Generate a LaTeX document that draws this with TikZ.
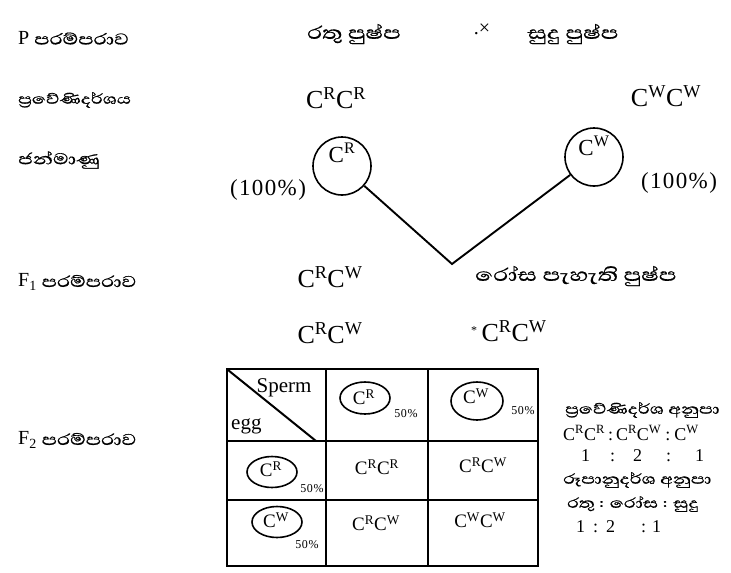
\documentclass[tikz,border=0pt]{standalone}
\usepackage{fontspec}
\setmainfont{Liberation Serif}
\newfontfamily\sinhfont[Script=Sinhala,FakeStretch=1.3,FakeBold=0.6]{Abhaya Libre}
\newfontfamily\spfont[LetterSpace=6]{Liberation Serif}
\usetikzlibrary{shapes.geometric}
\begin{document}
\begin{tikzpicture}[x=1pt,y=-1pt,
  lbl/.style={anchor=west,inner sep=0pt,font={\sinhfont\fontsize{20}{24}\selectfont}},
  phen/.style={anchor=center,inner sep=0pt,font={\sinhfont\fontsize{23}{26}\selectfont}},
  gen/.style={anchor=center,inner sep=0pt,font={\spfont\fontsize{26}{30}\selectfont}},
  pct/.style={anchor=center,inner sep=0pt,font={\spfont\fontsize{23}{26}\selectfont}},
  gcirc/.style={draw,circle,line width=1.6pt,minimum size=58pt,inner sep=0pt},
  link/.style={line width=1.9pt},
  grid/.style={line width=2.6pt},
  tcirc/.style={draw,ellipse,line width=1.6pt,inner sep=0pt},
  hd/.style={anchor=center,inner sep=0pt,font={\fontsize{21}{24}\selectfont}},
  cell/.style={anchor=center,inner sep=0pt,font={\fontsize{19}{22}\selectfont}},
  ctxt/.style={anchor=center,inner sep=0pt,font={\fontsize{19}{22}\selectfont}},
  small/.style={anchor=center,inner sep=0pt,font={\spfont\fontsize{12}{14}\selectfont}},
  rsin/.style={anchor=west,inner sep=0pt,font={\sinhfont\fontsize{18}{21}\selectfont}},
  rlat/.style={anchor=west,inner sep=0pt,font={\fontsize{18}{21}\selectfont}}
]
\useasboundingbox (0,0) rectangle (731,573);
\fill[white] (0,0) rectangle (731,573);

% left labels
\node[lbl] (pgen) at (18,38) {{\rmfamily P} පරම්පරාව};
\node[lbl,font={\sinhfont\fontsize{18}{22}\selectfont}] (geno) at (18,100) {ප්‍රවේණිදර්ශය};
\node[lbl] (gam) at (18,160) {ජන්මාණු};
\node[lbl] (f1) at (18,282) {{\rmfamily F\textsubscript{1}} පරම්පරාව};
\node[lbl] (f2) at (18,440) {{\rmfamily F\textsubscript{2}} පරම්පරාව};

% P generation
\node[phen] (red) at (354,34) {රතු පුෂ්ප};
\node[anchor=center,inner sep=0pt,font={\fontsize{20}{22}\selectfont}] (cross) at (482,29) {.×};
\node[phen] (white) at (573,34) {සුදු පුෂ්ප};

% genotypes
\node[gen] (gRR) at (336,98) {C\textsuperscript{R}C\textsuperscript{R}};
\node[gen] (gWW) at (666,96) {C\textsuperscript{W}C\textsuperscript{W}};

% gametes
\node[gcirc] (cR) at (342,166) {};
\node[gen,font={\fontsize{23}{26}\selectfont}] (tR) at (342,153) {C\textsuperscript{R}};
\node[gcirc] (cW) at (594,157) {};
\node[gen,font={\fontsize{23}{26}\selectfont}] (tW) at (594,146) {C\textsuperscript{W}};
\node[pct] (pR) at (268,190) {(100\%)};
\node[pct] (pW) at (679,183) {(100\%)};

\coordinate (v) at (452,264);
\draw[link] (cR) -- (v) -- (cW);

% F1
\node[gen] (f1g) at (330,277) {C\textsuperscript{R}C\textsuperscript{W}};
\node[phen,anchor=west] (pink) at (475,276) {රෝස පැහැති පුෂ්ප};
\node[gen] (f1a) at (330,333) {C\textsuperscript{R}C\textsuperscript{W}};
\node[gen,anchor=west] (f1b) at (471,331) {\raisebox{7pt}{\fontsize{12}{14}\selectfont *}\,C\textsuperscript{R}C\textsuperscript{W}};

% Punnett square
\draw[grid] (227,369) rectangle (538,566);
\draw[grid] (326,369) -- (326,566);
\draw[grid] (428,369) -- (428,566);
\draw[grid] (227,441) -- (538,441);
\draw[grid] (227,500) -- (538,500);
\draw[line width=2pt] (228,370) -- (316,441);
\node[hd] (sperm) at (284,388) {Sperm};
\node[hd,anchor=west] (egg) at (231,426) {egg};

\node[tcirc,minimum width=50pt,minimum height=32pt] (h1) at (365,398) {};
\node[ctxt] (h1t) at (364,397) {C\textsuperscript{R}};
\node[small] (h1p) at (406,414) {50\%};
\node[tcirc,minimum width=52pt,minimum height=38pt] (h2) at (477,401) {};
\node[ctxt] (h2t) at (476,396) {C\textsuperscript{W}};
\node[small] (h2p) at (523,411) {50\%};

\node[tcirc,minimum width=50pt,minimum height=31pt] (r1) at (272,472) {};
\node[ctxt] (r1t) at (271,469) {C\textsuperscript{R}};
\node[small] (r1p) at (312,489) {50\%};
\node[tcirc,minimum width=50pt,minimum height=31pt] (r2) at (277,522) {};
\node[ctxt] (r2t) at (276,520) {C\textsuperscript{W}};
\node[small] (r2p) at (307,545) {50\%};

\node[cell] (c11) at (377,467) {C\textsuperscript{R}C\textsuperscript{R}};
\node[cell] (c12) at (483,465) {C\textsuperscript{R}C\textsuperscript{W}};
\node[cell] (c21) at (376,523) {C\textsuperscript{R}C\textsuperscript{W}};
\node[cell] (c22) at (480,520) {C\textsuperscript{W}C\textsuperscript{W}};

% ratios
\node[rsin] (rg) at (565,410) {ප්‍රවේණිදර්ශ අනුපා};
\node[rlat] (rgg) at (563,433) {C\textsuperscript{R}C\textsuperscript{R}\hspace{3pt}:\hspace{3pt}C\textsuperscript{R}C\textsuperscript{W}\hspace{4pt}:\hspace{4pt}C\textsuperscript{W}};
\node[rlat] (rgn) at (581,456) {1\hspace{20pt}:\hspace{18pt}2\hspace{24pt}:\hspace{24pt}1};
\node[rsin] (rp) at (563,480) {රූපානුදර්ශ අනුපා};
\node[rsin] (rpp) at (567,504) {රතු : රෝස : සුදු};
\node[rlat] (rpn) at (576,527) {1\hspace{8pt}:\hspace{8pt}2\hspace{26pt}:\hspace{6pt}1};
\end{tikzpicture}
\end{document}
